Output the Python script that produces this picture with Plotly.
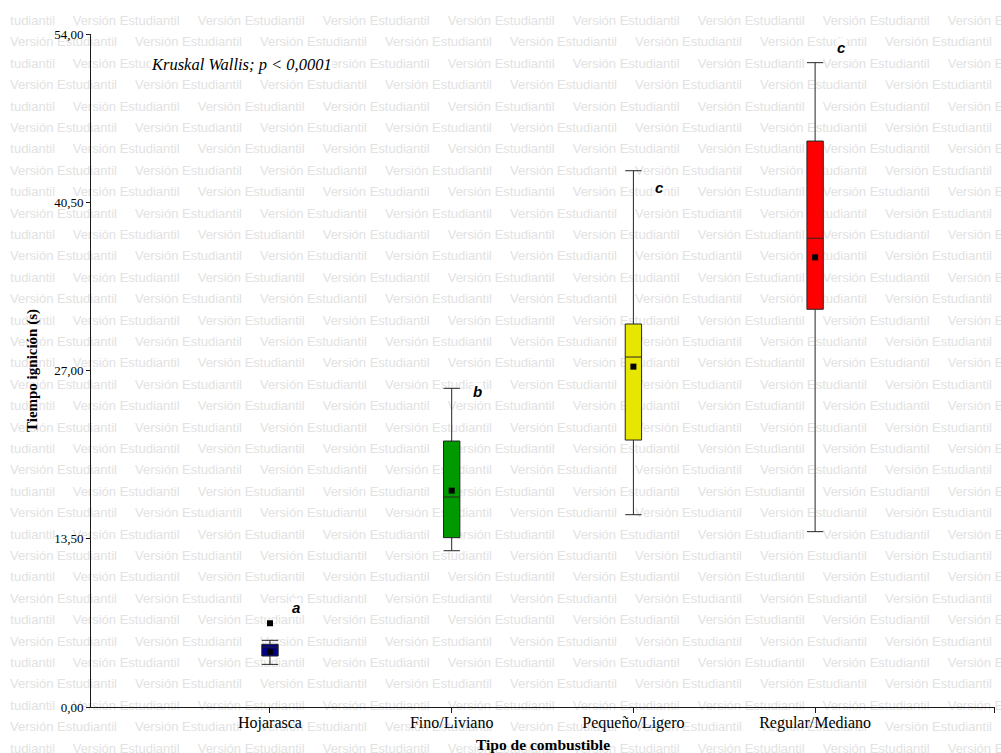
import plotly.graph_objects as go

# ---------------- data ----------------
categories = ["Hojarasca", "Fino/Liviano", "Pequeño/Ligero", "Regular/Mediano"]
lower_whisker = [3.42, 12.54, 15.43, 14.07]
q1_vals = [4.09, 13.59, 21.42, 31.91]
median_vals = [4.81, 16.85, 28.08, 37.61]
q3_vals = [5.03, 21.34, 30.73, 45.41]
upper_whisker = [5.35, 25.57, 43.03, 51.70]
mean_vals = [4.44, 17.36, 27.31, 36.08]
outlier_cat = ["Hojarasca"]
outlier_vals = [6.72]
box_colors = ["#00008B", "#009900", "#E6E600", "#FF0000"]
letters = ["a", "b", "c", "c"]
letter_y = [8.02, 25.35, 41.72, 52.88]
y_ticks = [0, 13.5, 27, 40.5, 54]

x_pos = list(range(len(categories)))
cat_index = {c: i for i, c in enumerate(categories)}

FIG_W, FIG_H = 1001, 753
# plot area in pixels
PX0, PX1, PY0, PY1 = 91, 995, 34, 707

fig = go.Figure()

# ---------------- background watermark ("Versión Estudiantil") ----------------
wm_x, wm_y, wm_t = [], [], []
row_gap, col_gap = 21.4, 125
for k in range(35):
    yc = 21.7 + row_gap * k
    start = -52.3 if k % 2 == 0 else 10
    xs = start
    while xs < FIG_W:
        if xs < 0:
            wm_x.append(xs + 62.6)
            wm_t.append("tudiantil")
        else:
            wm_x.append(xs)
            wm_t.append("Versión Estudiantil")
        wm_y.append(yc)
        xs += col_gap
fig.add_trace(go.Scatter(
    x=wm_x, y=wm_y, text=wm_t, mode="text", textposition="middle right",
    textfont=dict(family="Liberation Sans, Arial", size=13, color="#e2e2e2"),
    cliponaxis=False, hoverinfo="skip", showlegend=False,
    xaxis="x", yaxis="y",
))

# ---------------- boxes ----------------
for i, cat in enumerate(categories):
    fig.add_trace(go.Box(
        x=[x_pos[i]], q1=[q1_vals[i]], median=[median_vals[i]], q3=[q3_vals[i]],
        lowerfence=[lower_whisker[i]], upperfence=[upper_whisker[i]],
        fillcolor=box_colors[i], line=dict(color="#262626", width=1),
        whiskerwidth=1, width=0.09, boxpoints=False, showlegend=False,
        name=cat, xaxis="x2", yaxis="y2",
    ))

# means
fig.add_trace(go.Scatter(
    x=x_pos, y=mean_vals, mode="markers",
    marker=dict(symbol="square", size=6, color="black"),
    showlegend=False, xaxis="x2", yaxis="y2", cliponaxis=False,
))
# outliers
fig.add_trace(go.Scatter(
    x=[cat_index[c] for c in outlier_cat], y=outlier_vals, mode="markers",
    marker=dict(symbol="square", size=6, color="black"),
    showlegend=False, xaxis="x2", yaxis="y2", cliponaxis=False,
))

# ---------------- annotations ----------------
annotations = []
for i, (lt, ly) in enumerate(zip(letters, letter_y)):
    annotations.append(dict(
        x=x_pos[i], y=ly, xref="x2", yref="y2", text=f"<b><i>{lt}</i></b>",
        showarrow=False, xshift=26,
        font=dict(family="Liberation Sans, Arial", size=15, color="black"),
        bgcolor="white", borderpad=0,
    ))
annotations.append(dict(
    x=150 / FIG_W, y=1 - 64 / FIG_H,
    xref="paper", yref="paper", xanchor="left", yanchor="middle",
    text="<i>Kruskal Wallis; p &lt; 0,0001</i>", showarrow=False,
    font=dict(family="Liberation Serif, Times New Roman", size=16.5, color="black"),
    bgcolor="white", borderpad=0,
))

serif = "Liberation Serif, Times New Roman, serif"
fig.update_layout(
    width=FIG_W, height=FIG_H,
    margin=dict(l=0, r=0, t=0, b=0, pad=0, autoexpand=False),
    paper_bgcolor="white", plot_bgcolor="rgba(0,0,0,0)",
    separators=",.",
    showlegend=False,
    xaxis=dict(domain=[0, 1], range=[0, FIG_W], visible=False, fixedrange=True),
    yaxis=dict(domain=[0, 1], range=[FIG_H, 0], visible=False, fixedrange=True),
    xaxis2=dict(
        domain=[PX0 / FIG_W, PX1 / FIG_W], anchor="y2", range=[-0.985, 3.99],
        tickmode="array", tickvals=x_pos + [3.985], ticktext=categories + [""],
        showline=True, linecolor="#1a1a1a", linewidth=1,
        ticks="outside", ticklen=5, tickcolor="#1a1a1a", ticklabelstandoff=-4,
        showgrid=False, zeroline=False, automargin=False,
        tickfont=dict(family=serif, size=16, color="black"),
        title=dict(text="<b>Tipo de combustible</b>", standoff=10,
                   font=dict(family=serif, size=15.5, color="black")),
    ),
    yaxis2=dict(
        domain=[1 - PY1 / FIG_H, 1 - PY0 / FIG_H], anchor="x2", range=[0, 54],
        tickmode="array", tickvals=y_ticks, tickformat=".2f",
        showline=True, linecolor="#1a1a1a", linewidth=1,
        ticks="outside", ticklen=4, tickcolor="#1a1a1a",
        showgrid=False, zeroline=False, automargin=False,
        tickfont=dict(family=serif, size=13, color="black"),
        title=dict(text="<b>Tiempo ignición (s)</b>", standoff=12,
                   font=dict(family=serif, size=15, color="black")),
    ),
    annotations=annotations,
)

fig.write_html("out.html")
